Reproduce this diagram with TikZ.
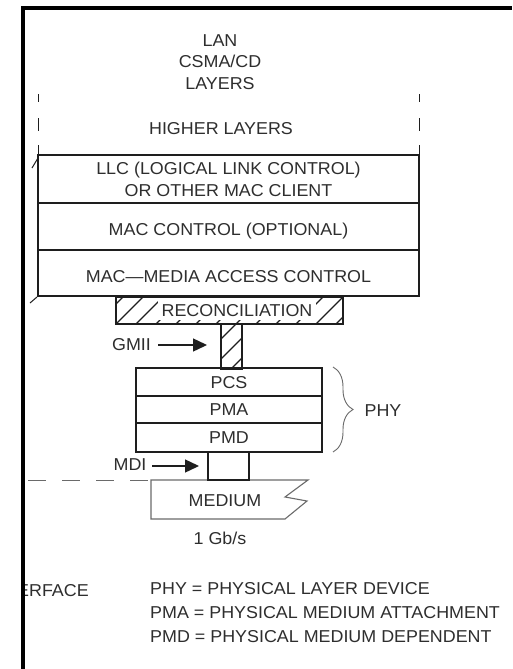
\documentclass[tikz,border=0pt]{standalone}
\usepackage{fontspec}
\setmainfont[FakeStretch=1.04]{Liberation Sans}
\usetikzlibrary{arrows.meta,decorations.pathreplacing}
\definecolor{ink}{HTML}{2E2E2E}
\definecolor{edge}{HTML}{1E1E1E}
\definecolor{soft}{HTML}{6A6A6A}
\begin{document}
\begin{tikzpicture}[x=1pt,y=-1pt,
  font=\fontsize{17.2}{22}\selectfont,
  txt/.style={inner sep=0pt, text=ink, text height=12.3pt, text depth=0pt},
  box/.style={draw=edge, line width=1.5pt, inner sep=0pt, text=ink},
  capbox/.style={box, text height=12.3pt, text depth=0pt},
  lowbox/.style={box, text height=18.3pt, text depth=0pt},
  hatch/.style={draw=edge, line width=1.4pt},
  dashv/.style={draw=edge, line width=1pt},
  dashh/.style={draw=soft, line width=1pt, dash pattern=on 18pt off 16pt},
  arr/.style={draw=edge, line width=1.4pt, -{Triangle[length=14pt,width=13pt]}},
  medium/.style={draw=soft, line width=1.1pt},
  border/.style={draw=black, line width=4pt, line join=miter}
]
\fill[white] (0,0) rectangle (512,669);
\useasboundingbox (0,0) rectangle (512,669);

% title
\node[txt] (lan) at (220,40) {LAN};
\node[txt] (csma) at (220,61.5) {CSMA/CD};
\node[txt] (layers) at (220,83) {LAYERS};
\node[txt] (higher) at (221,128) {HIGHER LAYERS};

% dashed sides of higher layers
\foreach \xx in {38,419}{
  \draw[dashv] (\xx,94) -- (\xx,102);
  \draw[dashv] (\xx,118) -- (\xx,131);
  \draw[dashv] (\xx,145) -- (\xx,155);
}

% MAC layers
\node[box, minimum width=381pt, minimum height=48pt, align=center] (llc) at (228.5,179)
  {LLC (LOGICAL LINK CONTROL)\\OR OTHER MAC CLIENT};
\node[lowbox, minimum width=381pt, minimum height=47pt] (macc) at (228.5,226.5) {MAC CONTROL (OPTIONAL)};
\node[lowbox, minimum width=381pt, minimum height=46pt] (mac) at (228.5,273) {MAC\textemdash MEDIA ACCESS CONTROL};
\draw[dashv] (32,168) -- (38,158);
\draw[dashv] (30,303) -- (37,297);

% hatching of reconciliation and GMII
\begin{scope}
  \clip (116,297) rectangle (343,324) (221,324) rectangle (242,369);
  \foreach \i in {40,60,...,400}{
    \draw[hatch] (\i,380) -- ++(95,-95);
  }
\end{scope}
\node[box, minimum width=227pt, minimum height=27pt] (rec) at (229.5,310.5) {};
\node[box, minimum width=21pt, minimum height=45pt] (gmiistack) at (231.5,346.5) {};
\node[txt, fill=white, inner xsep=3.5pt, minimum height=22pt, text height=15.3pt] (rectext) at (237,308.5) {RECONCILIATION};

% GMII
\node[txt] (gmii) at (131.5,344) {GMII};
\coordinate (gmiiA) at (158,345);
\coordinate (gmiiB) at (207,345);
\draw[arr] (gmiiA) -- (gmiiB);

% PHY
\node[capbox, minimum width=186pt, minimum height=28pt] (pcs) at (229,382) {PCS};
\node[capbox, minimum width=186pt, minimum height=27pt] (pma) at (229,409.5) {PMA};
\node[capbox, minimum width=186pt, minimum height=29pt] (pmd) at (229,437.5) {PMD};
\draw[decorate, decoration={brace, amplitude=20pt}, draw=soft, line width=0.9pt] (333,367) -- (333,452);
\node[txt] (phy) at (383,410) {PHY};

% medium
\draw[dashh] (28,480) -- (150,480);
\path[medium] (151,480) -- (308,480) -- (285,497) -- (307,501) -- (285,519) -- (151,519) -- cycle;
\node[txt] (medium) at (225,500) {MEDIUM};
\node[box, minimum width=41pt, minimum height=28pt] (mdibox) at (228.5,466) {};
\node[txt] (mdi) at (130,464) {MDI};
\coordinate (mdiA) at (152,466);
\coordinate (mdiB) at (199,466);
\draw[arr] (mdiA) -- (mdiB);

\node[txt] (rate) at (220,538) {1 Gb/s};

% legend
\begin{scope}
  \clip (24.5,570) rectangle (120,610);
  \node[txt, anchor=west] (erface) at (17,590) {ERFACE};
\end{scope}
\node[txt, anchor=west] (leg1) at (150,588) {PHY = PHYSICAL LAYER DEVICE};
\node[txt, anchor=west] (leg2) at (150,612) {PMA = PHYSICAL MEDIUM ATTACHMENT};
\node[txt, anchor=west] (leg3) at (150,636) {PMD = PHYSICAL MEDIUM DEPENDENT};

% frame
\draw[border] (22.5,669) -- (22.5,8.5) -- (512,8.5);
\end{tikzpicture}
\end{document}
